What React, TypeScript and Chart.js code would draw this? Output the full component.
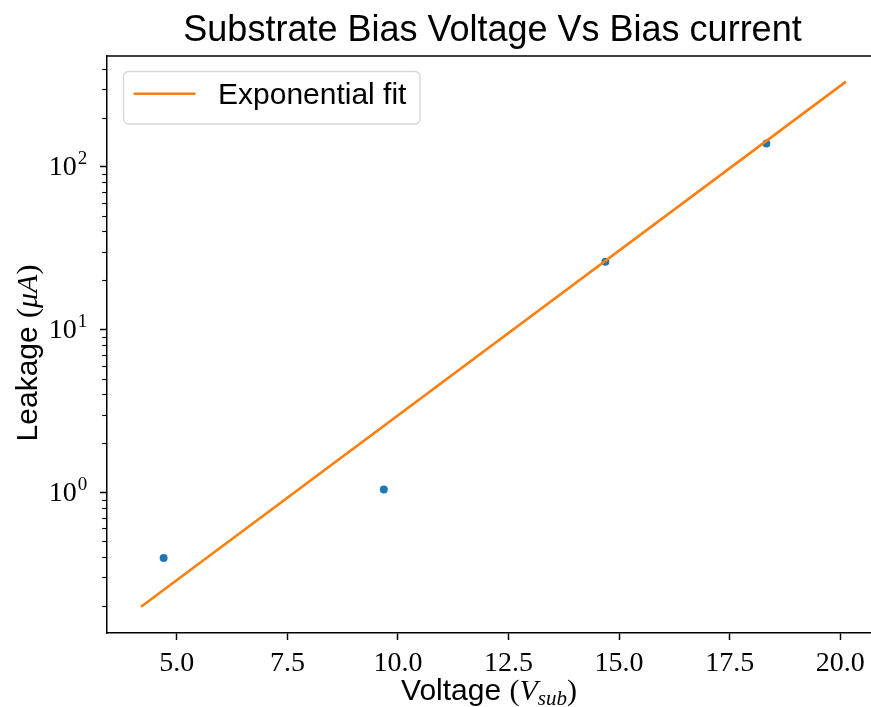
import { useEffect, useRef } from 'react';
import { Chart, registerables } from 'chart.js';

Chart.register(...registerables);

// Measured bias points
const voltage = [4.7, 9.68, 14.69, 18.33];
const leakage = [0.395, 1.04, 26.1, 139];

// Exponential fit, straight on the log axis, so its two end points define it
const fitVoltage = [4.19, 20.13];
const fitLeakage = [0.198, 333];

// Axis ticks
const xTicks = [5, 7.5, 10, 12.5, 15, 17.5, 20];
const yMajorTicks = [1, 10, 100];
const yExponents = ['0', '1', '2'];

const titleText = 'Substrate Bias Voltage Vs Bias current';
const legendLabel = 'Exponential fit';

const W = 900;
const H = 707;
const SANS = '"Liberation Sans", Arial, sans-serif';
const SERIF = '"Liberation Serif", "Times New Roman", serif';
const BLUE = '#1f77b4';
const ORANGE = '#ff7f0e';

type Run = { text: string; font: string; dy?: number };

function drawRuns(ctx: CanvasRenderingContext2D, runs: Run[], cx: number, baseline: number) {
  let total = 0;
  const widths = runs.map((r) => {
    ctx.font = r.font;
    const w = ctx.measureText(r.text).width;
    total += w;
    return w;
  });
  let x = cx - total / 2;
  ctx.textAlign = 'left';
  ctx.textBaseline = 'alphabetic';
  runs.forEach((r, i) => {
    ctx.font = r.font;
    ctx.fillText(r.text, x, baseline + (r.dy || 0));
    x += widths[i];
  });
}

const decorations = {
  id: 'decorations',
  afterDraw(chart: any) {
    const ctx: CanvasRenderingContext2D = chart.ctx;
    const ca = chart.chartArea;
    const ys = chart.scales.y;
    ctx.save();
    ctx.fillStyle = '#000';
    ctx.strokeStyle = '#000';

    // top and right spines
    ctx.lineWidth = 1.5;
    ctx.beginPath();
    ctx.moveTo(ca.left, ca.top);
    ctx.lineTo(ca.right, ca.top);
    ctx.lineTo(ca.right, ca.bottom);
    ctx.stroke();

    // minor ticks of the log axis
    ctx.lineWidth = 1.1;
    for (let d = 0.1; d <= 1000; d *= 10) {
      for (let m = 2; m <= 9; m++) {
        const v = d * m;
        if (v < ys.min || v > ys.max) continue;
        const py = Math.round(ys.getPixelForValue(v)) + 0.5;
        ctx.beginPath();
        ctx.moveTo(ca.left, py);
        ctx.lineTo(ca.left - 4.8, py);
        ctx.stroke();
      }
    }

    // y tick labels as powers of ten
    yMajorTicks.forEach((v, i) => {
      const py = ys.getPixelForValue(v);
      const right = ca.left - 19.7;
      ctx.textAlign = 'right';
      ctx.textBaseline = 'alphabetic';
      ctx.font = `19px ${SERIF}`;
      const ew = ctx.measureText(yExponents[i]).width;
      ctx.fillText(yExponents[i], right, py - 2.5);
      ctx.font = `28px ${SERIF}`;
      ctx.fillText('10', right - ew - 1, py + 8.5);
    });

    // title
    ctx.textAlign = 'center';
    ctx.textBaseline = 'alphabetic';
    ctx.font = `36px ${SANS}`;
    ctx.fillText(titleText, 492.5, 40.5);

    // x axis label
    drawRuns(
      ctx,
      [
        { text: 'Voltage ', font: `30px ${SANS}` },
        { text: '(', font: `30px ${SERIF}` },
        { text: 'V', font: `italic 30px ${SERIF}` },
        { text: 'sub', font: `italic 21px ${SERIF}`, dy: 5.5 },
        { text: ')', font: `30px ${SERIF}` },
      ],
      489,
      699.5
    );

    // y axis label
    ctx.save();
    ctx.translate(37, 353);
    ctx.rotate(-Math.PI / 2);
    drawRuns(
      ctx,
      [
        { text: 'Leakage ', font: `30px ${SANS}` },
        { text: '(', font: `30px ${SERIF}` },
        { text: 'μA', font: `italic 30px ${SERIF}` },
        { text: ')', font: `30px ${SERIF}` },
      ],
      0,
      0
    );
    ctx.restore();

    // legend
    const bx = 123.5, by = 71.5, bw = 296.5, bh = 52.5, r = 5;
    ctx.beginPath();
    ctx.moveTo(bx + r, by);
    ctx.arcTo(bx + bw, by, bx + bw, by + bh, r);
    ctx.arcTo(bx + bw, by + bh, bx, by + bh, r);
    ctx.arcTo(bx, by + bh, bx, by, r);
    ctx.arcTo(bx, by, bx + bw, by, r);
    ctx.closePath();
    ctx.fillStyle = 'rgba(255,255,255,0.8)';
    ctx.fill();
    ctx.strokeStyle = '#d6d6d6';
    ctx.lineWidth = 1.3;
    ctx.stroke();

    ctx.strokeStyle = ORANGE;
    ctx.lineWidth = 2.6;
    ctx.beginPath();
    ctx.moveTo(133.5, 93.7);
    ctx.lineTo(195.5, 93.7);
    ctx.stroke();

    ctx.fillStyle = '#000';
    ctx.textAlign = 'left';
    ctx.font = `30px ${SANS}`;
    ctx.fillText(legendLabel, 218, 104.3);

    ctx.restore();
  },
};

export default function App() {
  const ref = useRef<HTMLCanvasElement | null>(null);

  useEffect(() => {
    if (!ref.current) return;
    const chart = new Chart(ref.current, {
      type: 'scatter',
      data: {
        datasets: [
          {
            type: 'line',
            label: legendLabel,
            data: fitVoltage.map((x, i) => ({ x, y: fitLeakage[i] })),
            borderColor: ORANGE,
            borderWidth: 2.6,
            pointRadius: 0,
            fill: false,
            tension: 0,
            order: 0,
          },
          {
            type: 'scatter',
            label: 'Measured',
            data: voltage.map((x, i) => ({ x, y: leakage[i] })),
            backgroundColor: BLUE,
            borderColor: BLUE,
            borderWidth: 0,
            pointRadius: 4,
            order: 1,
          },
        ],
      },
      options: {
        responsive: false,
        animation: false,
        events: [],
        layout: { padding: { left: 0, top: 56, right: 20, bottom: 0 } },
        plugins: {
          legend: { display: false },
          title: { display: false },
          tooltip: { enabled: false },
        },
        scales: {
          x: {
            type: 'linear',
            position: 'bottom',
            min: 3.42,
            max: 20.9,
            afterBuildTicks: (scale: any) => {
              scale.ticks = xTicks.map((value) => ({ value }));
            },
            afterFit: (scale: any) => {
              scale.height = H - 633;
            },
            ticks: {
              autoSkip: false,
              maxRotation: 0,
              padding: 7,
              color: '#000',
              font: { family: SERIF, size: 28 },
              callback: (v: any) => Number(v).toFixed(1),
            },
            grid: {
              display: true,
              drawOnChartArea: false,
              drawTicks: true,
              tickLength: 7,
              tickWidth: 1.5,
              tickColor: '#000',
              color: '#000',
            },
            border: { display: true, color: '#000', width: 1.5 },
          },
          y: {
            type: 'logarithmic',
            position: 'left',
            min: 0.1367,
            max: 478.6,
            afterBuildTicks: (scale: any) => {
              scale.ticks = yMajorTicks.map((value) => ({ value }));
            },
            afterFit: (scale: any) => {
              scale.width = 107;
            },
            ticks: { display: false },
            grid: {
              display: true,
              drawOnChartArea: false,
              drawTicks: true,
              tickLength: 7,
              tickWidth: 1.5,
              tickColor: '#000',
              color: '#000',
            },
            border: { display: true, color: '#000', width: 1.5 },
          },
        },
      },
      plugins: [decorations],
    } as any);
    return () => chart.destroy();
  }, []);

  return (
    <div
      style={{
        position: 'fixed',
        left: 0,
        top: 0,
        width: 871,
        height: 707,
        overflow: 'hidden',
        background: '#fff',
      }}
    >
      <canvas ref={ref} width={W} height={H} style={{ display: 'block', width: W, height: H }} />
    </div>
  );
}
